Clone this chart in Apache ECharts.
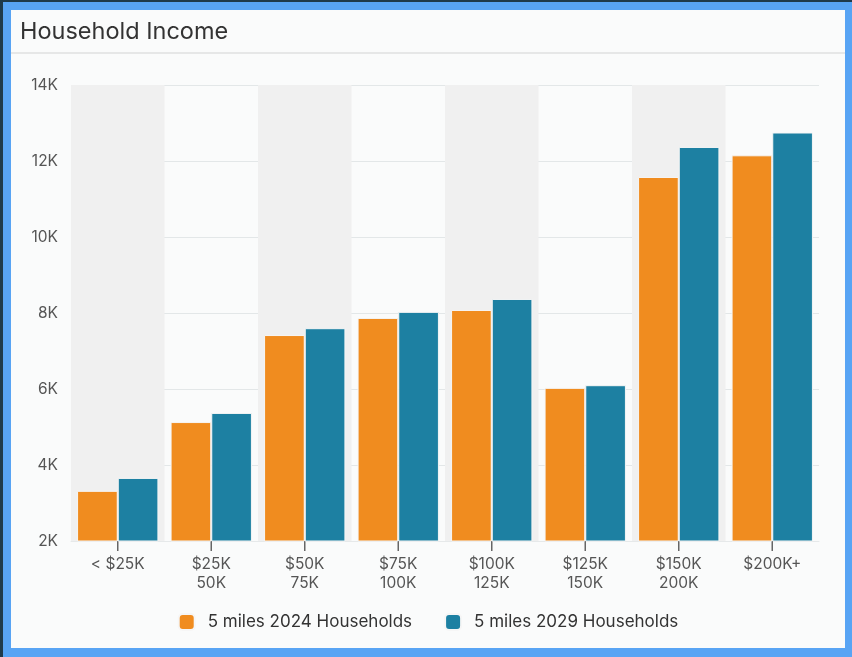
<!DOCTYPE html>
<html>
<head>
<meta charset="utf-8">
<script src="https://cdn.jsdelivr.net/npm/echarts@6/dist/echarts.min.js"></script>
<style>
  html, body { margin: 0; padding: 0; background: #1f3a4b; width: 852px; height: 657px; overflow: hidden; }
  #frame { position: absolute; left: 3px; top: 2px; width: 834px; height: 638px;
           border-style: solid; border-color: #58a4f4; border-width: 8px 7px 9px 8px; background: #fafbfb; }
  #chart { width: 834px; height: 638px; }
</style>
</head>
<body>
<div id="frame"><div id="chart"></div></div>
<script>
  // income brackets
  const categories = ['< $25K', '$25K\n50K', '$50K\n75K', '$75K\n100K', '$100K\n125K', '$125K\n150K', '$150K\n200K', '$200K+'];
  const households2024 = [3320, 5130, 7420, 7870, 8080, 6030, 11580, 12150];
  const households2029 = [3660, 5370, 7600, 8030, 8370, 6100, 12370, 12750];
  const seriesNames = ['5 miles 2024 Households', '5 miles 2029 Households'];
  const yTicks = { min: 2000, max: 14000, interval: 2000 };

  const fontFamily = 'Inter, "Noto Sans", sans-serif';
  let chart = echarts.init(document.getElementById('chart'));
  let option = {
    textStyle: { fontFamily: fontFamily },
    title: {
      text: 'Household Income',
      left: 4,
      top: 5,
      textStyle: { fontSize: 23.5, fontWeight: 'normal', color: '#333', fontFamily: fontFamily }
    },
    graphic: [{
      type: 'rect',
      shape: { x: 0, y: 42, width: 834, height: 2 },
      style: { fill: '#e6e7e7' },
      silent: true
    }],
    legend: {
      data: seriesNames,
      bottom: 12,
      left: 'center',
      itemWidth: 16,
      itemHeight: 16,
      itemGap: 32,
      icon: 'roundRect',
      textStyle: { fontSize: 17, color: '#333', fontFamily: fontFamily, padding: [0, 0, 0, 8] }
    },
    grid: { left: 60, right: 26, top: 75, bottom: 107 },
    xAxis: {
      type: 'category',
      data: categories,
      axisLine: { show: true, onZero: false, lineStyle: { color: '#e6e9ea', width: 1 } },
      axisTick: { show: false },
      axisLabel: { fontSize: 15.5, color: '#555', lineHeight: 19, margin: 14 },
      splitArea: { show: true, areaStyle: { color: ['#f0f0f0', 'rgba(0,0,0,0)'] } }
    },
    yAxis: {
      type: 'value',
      min: yTicks.min,
      max: yTicks.max,
      interval: yTicks.interval,
      axisLabel: {
        fontSize: 15.5, color: '#555', margin: 13,
        formatter: v => (v / 1000) + 'K'
      },
      splitLine: { lineStyle: { color: '#e3e7e8' } }
    },
    series: [
      {
        name: seriesNames[0],
        type: 'bar',
        data: households2024,
        barGap: 0,
        barCategoryGap: '13%',
        itemStyle: { color: '#f08c1f', borderColor: '#f6f6f6', borderWidth: 1 }
      },
      {
        name: seriesNames[1],
        type: 'bar',
        data: households2029,
        barGap: 0,
        barCategoryGap: '13%',
        itemStyle: { color: '#1d80a2', borderColor: '#f6f6f6', borderWidth: 1 }
      },
      {
        // tick marks under each category centre
        type: 'custom',
        silent: true,
        clip: false,
        data: categories.map((c, i) => [i]),
        renderItem: (params, api) => {
          let p = api.coord([api.value(0), yTicks.min]);
          return {
            type: 'line',
            shape: { x1: p[0], y1: p[1], x2: p[0], y2: p[1] + 10 },
            style: { stroke: '#666', lineWidth: 1.5 }
          };
        }
      }
    ]
  };
  chart.setOption(option);
  window.addEventListener('resize', () => { chart.resize() });
</script>
</body>
</html>
